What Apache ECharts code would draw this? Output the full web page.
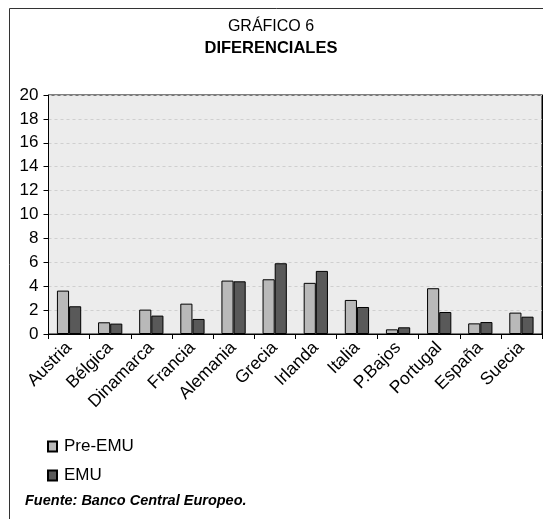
<!DOCTYPE html>
<html>
<head>
<meta charset="utf-8">
<script src="https://cdn.jsdelivr.net/npm/echarts@6/dist/echarts.min.js"></script>
<style>
html,body{margin:0;padding:0;background:#fff;}
#c{width:543px;height:519px;}
</style>
</head>
<body>
<div id="c"></div>
<script>
const categories = ['Austria','Bélgica','Dinamarca','Francia','Alemania','Grecia','Irlanda','Italia','P.Bajos','Portugal','España','Suecia'];
const preEMU = [3.63, 0.98, 2.04, 2.54, 4.47, 4.58, 4.28, 2.85, 0.39, 3.83, 0.89, 1.79];
const emu = [2.32, 0.87, 1.54, 1.26, 4.41, 5.92, 5.28, 2.26, 0.56, 1.84, 1.00, 1.45];
const seriesNames = ['Pre-EMU', 'EMU'];
const titleLine1 = 'GRÁFICO 6';
const titleLine2 = 'DIFERENCIALES';
const sourceText = 'Fuente: Banco Central Europeo.';

const FONT = '"Liberation Sans", Arial, sans-serif';
const chart = echarts.init(document.getElementById('c'), null, {renderer: 'canvas'});
chart.setOption({
  animation: false,
  backgroundColor: '#ffffff',
  legend: {
    orient: 'vertical',
    left: 47,
    top: 438,
    padding: 0,
    itemWidth: 9,
    itemHeight: 10,
    itemGap: 12,
    icon: 'rect',
    data: seriesNames,
    textStyle: {fontFamily: FONT, fontSize: 17, color: '#000', padding: [0,0,0,2]}
  },
  grid: {left: 48.5, top: 95, right: 1, bottom: 185, show: true, backgroundColor: '#ececec', borderColor: '#000', borderWidth: 1},
  xAxis: [{
    type: 'category',
    data: categories,
    axisLine: {lineStyle: {color: '#000', width: 1}},
    axisTick: {show: true, length: 5, lineStyle: {color: '#000'}},
    axisLabel: {rotate: 45, fontFamily: FONT, fontSize: 17.5, color: '#000', margin: 11, interval: 0}
  }, {
    type: 'category',
    data: categories,
    position: 'top',
    z: 5,
    axisLine: {show: true, lineStyle: {color: '#000', width: 1}},
    axisTick: {show: false},
    axisLabel: {show: false}
  }],
  yAxis: [{
    type: 'value',
    min: 0, max: 20, interval: 2,
    axisLine: {show: true, lineStyle: {color: '#000', width: 1}},
    axisTick: {show: true, length: 5, lineStyle: {color: '#000'}},
    axisLabel: {fontFamily: FONT, fontSize: 17, color: '#000', margin: 10},
    splitLine: {show: true, lineStyle: {color: '#cfcfcf', type: [3, 3], width: 1}}
  }, {
    type: 'value',
    min: 0, max: 20, interval: 2,
    position: 'right',
    z: 5,
    axisLine: {show: true, lineStyle: {color: '#000', width: 1}},
    axisTick: {show: false},
    axisLabel: {show: false},
    splitLine: {show: false}
  }],
  series: [
    {name: seriesNames[0], type: 'bar', data: preEMU, barGap: '0%', barCategoryGap: '41%',
     itemStyle: {color: '#b9b9b9', borderColor: '#000', borderWidth: 1}},
    {name: seriesNames[1], type: 'bar', data: emu, barGap: '0%', barCategoryGap: '41%',
     itemStyle: {color: '#595959', borderColor: '#000', borderWidth: 1}}
  ],
  graphic: [
    {type: 'rect', shape: {x: 9.5, y: 8.5, width: 700, height: 700}, style: {fill: null, stroke: '#333', lineWidth: 1}, silent: true, z: -1},
    {type: 'text', x: 271, y: 27, style: {text: titleLine1, font: '16px ' + FONT, fill: '#000', align: 'center', verticalAlign: 'middle'}},
    {type: 'text', x: 271, y: 48, style: {text: titleLine2, font: 'bold 16.5px ' + FONT, fill: '#000', align: 'center', verticalAlign: 'middle'}},
    {type: 'text', x: 25, y: 501, style: {text: sourceText, font: 'italic bold 14.5px ' + FONT, fill: '#000', verticalAlign: 'middle'}}
  ]
});
</script>
</body>
</html>
